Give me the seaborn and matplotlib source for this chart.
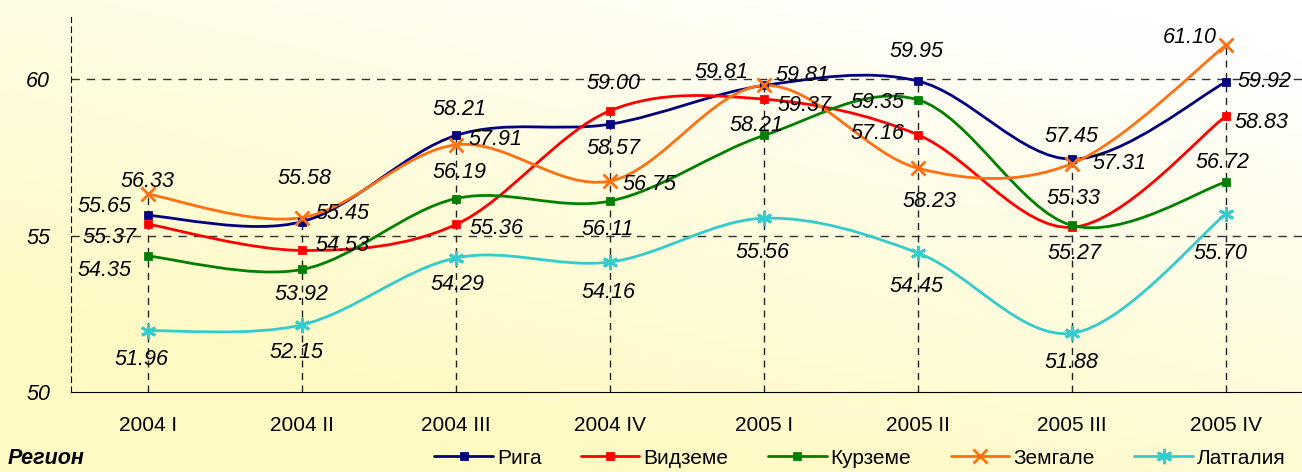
import numpy as np
import matplotlib
matplotlib.use('Agg')
import matplotlib.pyplot as plt
from matplotlib.path import Path
from matplotlib.patches import PathPatch
from matplotlib.lines import Line2D
import seaborn as sns

# data
quarters = ['2004 I', '2004 II', '2004 III', '2004 IV', '2005 I', '2005 II', '2005 III', '2005 IV']
riga = [55.65, 55.45, 58.21, 58.57, 59.81, 59.95, 57.45, 59.92]
vidzeme = [55.37, 54.53, 55.36, 59.00, 59.37, 58.23, 55.27, 58.83]
kurzeme = [54.35, 53.92, 56.19, 56.11, 58.21, 59.35, 55.33, 56.72]
zemgale = [56.33, 55.58, 57.91, 56.75, 59.81, 57.16, 57.31, 61.10]
latgale = [51.96, 52.15, 54.29, 54.16, 55.56, 54.45, 51.88, 55.70]
names = ['Рига', 'Видземе', 'Курземе', 'Земгале', 'Латгалия']

series = [riga, vidzeme, kurzeme, zemgale, latgale]
colors = ['#000080', '#FF0000', '#008000', '#FF7010', '#33CCCC']
asterisk = (6, 2, 0)
markers = ['s', 's', 's', 'x', asterisk]
msizes = [4.5, 4.5, 4.5, 10, 11]

# label offsets in pixels (dx, dy up)
offsets = [
    [(-43, 9), (41, 8), (4, 26), (4, -24), (39, 10), (-1, 30), (0, 23), (39, 0)],
    [(-38, -13), (41, 5), (41, -4), (4, 27), (41, -6), (12, -67), (3, -26), (36, -6)],
    [(-43, -14), (0, -25), (4, 26), (-2, -28), (-7, 10), (-40, -3), (2, 27), (-3, 19)],
    [(0, 13), (3, 39), (40, 5), (40, -3), (-42, 13), (-40, 35), (48, 0), (-36, 8)],
    [(-6, -29), (-5, -28), (2, -27), (-1, -31), (-1, -34), (-1, -34), (0, -29), (-5, -40)],
]

sns.set_style('white')
plt.rcParams['font.family'] = ['Liberation Sans', 'DejaVu Sans']
plt.rcParams['text.color'] = 'black'
plt.rcParams['xtick.color'] = 'black'
plt.rcParams['ytick.color'] = 'black'

fig = plt.figure(figsize=(13.02, 4.72), dpi=100)

# yellow gradient background
bg = fig.add_axes([0, 0, 1, 1], zorder=-10)
xx, yy = np.meshgrid(np.linspace(0, 1, 300), np.linspace(0, 1, 120))
w = np.clip(0.55 * (1 - xx) + 0.85 * yy - 0.1, 0, 1)
yellow = np.array([255, 250, 196]) / 255.0
img = (1 - w[..., None]) * np.ones(3) + w[..., None] * yellow
bg.imshow(img, aspect='auto', extent=[0, 1, 0, 1], origin='upper')
bg.axis('off')

ax = fig.add_axes([71 / 1302, 1 - 392 / 472, 1232 / 1302, 375 / 472])
ax.set_facecolor('none')
xs = np.arange(len(quarters))

# drop lines and grid
tops = np.max(np.array(series), axis=0)
ax.vlines(xs, 50, tops, colors='#222222', linestyles=(0, (5, 4)), linewidth=1, zorder=1)
for yv in [55, 60]:
    ax.axhline(yv, color='#333333', linestyle=(0, (6, 5)), linewidth=1, zorder=1)


def smooth_path(x, y):
    pts = np.column_stack([x, y]).astype(float)
    verts = [pts[0]]
    codes = [Path.MOVETO]
    n = len(pts)
    for i in range(n - 1):
        p0 = pts[max(i - 1, 0)]
        p1 = pts[i]
        p2 = pts[i + 1]
        p3 = pts[min(i + 2, n - 1)]
        verts += [p1 + (p2 - p0) / 6, p2 - (p3 - p1) / 6, p2]
        codes += [Path.CURVE4] * 3
    return Path(verts, codes)


for vals, c, m, ms, offs in zip(series, colors, markers, msizes, offsets):
    ax.add_patch(PathPatch(smooth_path(xs, vals), fill=False, edgecolor=c, lw=2, zorder=3))
    sns.lineplot(x=xs, y=vals, ax=ax, color=c, marker=m, markersize=ms, mew=2,
                 mec=c, mfc=c, linestyle='', legend=False, zorder=4)
    for xi, v, (dx, dy) in zip(xs, vals, offs):
        ax.annotate(f'{v:.2f}', (xi, v), xytext=(dx, dy), textcoords='offset pixels',
                    ha='center', va='center', fontsize=15.5, style='italic', zorder=5)

ax.set_xlim(-0.5, 7.5)
ax.set_ylim(50, 62)
ax.set_yticks([50, 55, 60])
ax.set_yticklabels(['50', '55', '60'], fontsize=15.5, style='italic')
ax.set_xticks(xs)
ax.set_xticklabels(quarters, fontsize=15)
ax.set_xticks(np.arange(0.5, 7.5, 1), minor=True)
ax.tick_params(axis='x', which='major', length=0, pad=17)
ax.tick_params(axis='x', which='minor', length=5, direction='out', color='black', width=1)
ax.tick_params(axis='y', length=6, direction='inout', color='black', width=1, pad=12)
ax.spines['top'].set_visible(False)
ax.spines['right'].set_visible(False)
ax.spines['bottom'].set_color('black')
ax.spines['left'].set_color('black')
ax.spines['left'].set_linestyle((0, (5, 4)))
ax.set_xlabel('')
ax.set_ylabel('')

handles = [Line2D([0], [0], color=c, lw=2, marker=m, markersize=ms, mew=2)
           for c, m, ms in zip(colors, markers, msizes)]
fig.legend(handles, names, loc='center', bbox_to_anchor=(860 / 1302, 1 - 458 / 472), ncol=5,
           frameon=False, fontsize=15, handlelength=2.8, handletextpad=0.2, columnspacing=1.9)
fig.text(8 / 1302, 1 - 458 / 472, 'Регион', fontsize=15.5, weight='bold', style='italic',
         va='center', ha='left')

fig.savefig('out.png', dpi=100)
